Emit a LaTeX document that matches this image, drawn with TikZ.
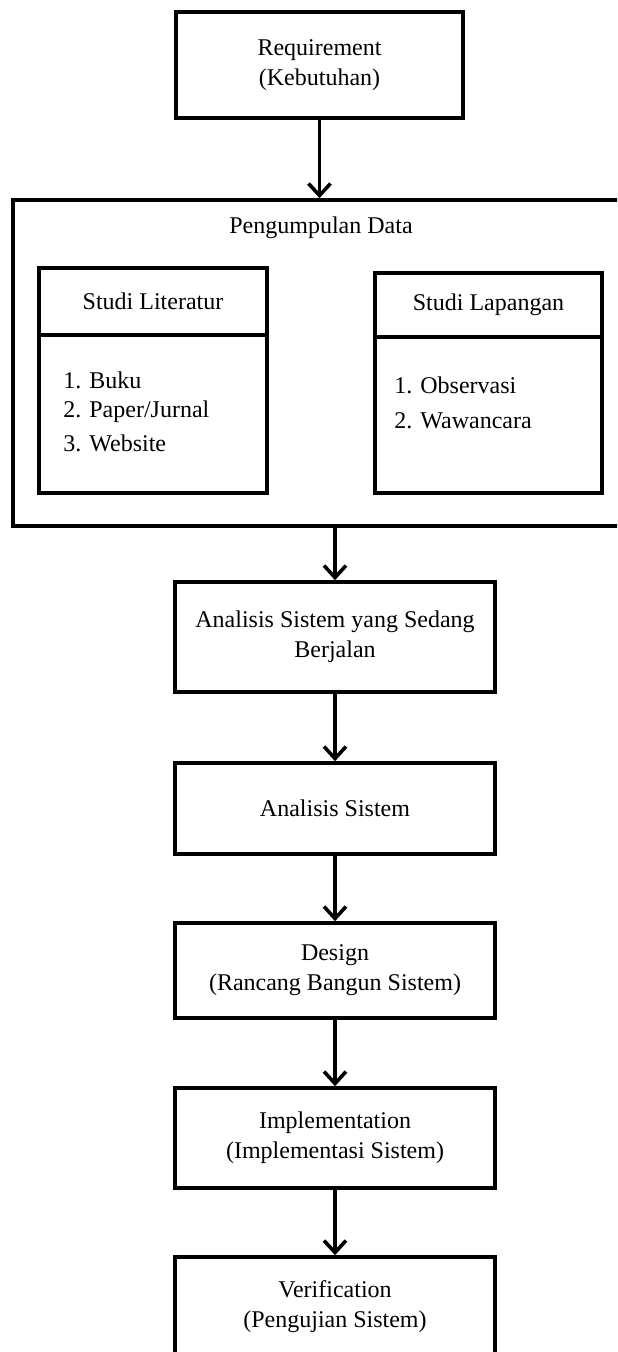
\documentclass[tikz,border=0pt]{standalone}
\usepackage{fontspec}
\setmainfont{Liberation Serif}
\usetikzlibrary{arrows.meta}
\usetikzlibrary{positioning, calc}

\tikzset{
    kotak/.style={draw, line width=1.8pt, align=center, inner sep=0pt, font=\fontsize{12}{15}\selectfont},
    alur/.style={kotak, minimum width=160pt},
    panah/.style={line width=1.8pt, -{Straight Barb[length=6pt, width=11pt]}},
    isi/.style={anchor=west, inner sep=0pt, font=\fontsize{12}{15}\selectfont},
}

\begin{document}
\begin{tikzpicture}[x=0.5pt, y=-0.5pt]

    \useasboundingbox (0,0) rectangle (617,1352);
    \clip (0,0) rectangle (617,1352);

    \node[kotak, minimum width=143.5pt, minimum height=53pt] (req) at (319.5,65) {Requirement\\(Kebutuhan)};

    % kotak pengumpulan data
    \node[kotak, minimum width=308.5pt, minimum height=163pt] (data) at (321.5,363) {};
    \node[isi, anchor=center] (judul) at (321,228) {Pengumpulan Data};

    \node[kotak, minimum width=114pt, minimum height=112.5pt] (lit) at (153,380.5) {};
    \node[kotak, minimum width=114pt, minimum height=33.5pt, anchor=north] (litjudul) at (lit.north) {Studi Literatur};

    \node[kotak, minimum width=113.5pt, minimum height=110pt] (lap) at (488.5,383) {};
    \node[kotak, minimum width=113.5pt, minimum height=32pt, anchor=north] (lapjudul) at (lap.north) {Studi Lapangan};

    \foreach \teks [count=\i] in {1. Buku, 2. Paper/Jurnal, 3. Website}{
            \node[isi] (lit\i) at (63,348.5+31.5*\i) {\teks};
        }

    \foreach \teks [count=\i] in {1. Observasi, 2. Wawancara}{
            \node[isi] (lap\i) at (394,349+36*\i) {\teks};
        }

    % alur sistem
    \node[alur, minimum height=55pt] (sedang) at (335,637) {Analisis Sistem yang Sedang\\Berjalan};
    \node[alur, minimum height=45.5pt] (anal) at (335,808.5) {Analisis Sistem};
    \node[alur, minimum height=47.5pt] (design) at (335,970.5) {Design\\(Rancang Bangun Sistem)};
    \node[alur, minimum height=50pt] (impl) at (335,1138) {Implementation\\(Implementasi Sistem)};
    \node[alur, minimum height=50pt] (verif) at (335,1307) {Verification\\(Pengujian Sistem)};

    \draw[panah] (req) -- (req |- data.north);
    \draw[panah] (data.south -| sedang) -- (sedang);

    \foreach \a/\b in {sedang/anal, anal/design, design/impl, impl/verif}{
            \draw[panah] (\a) -- (\b);
        }

\end{tikzpicture}
\end{document}
